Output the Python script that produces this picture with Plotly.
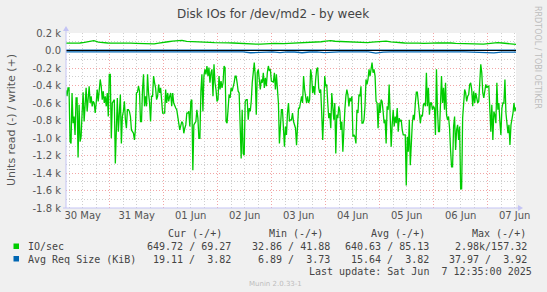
import plotly.graph_objects as go
import pandas as pd

# ---------------- data ----------------
period_start = "2025-05-30 04:35"
period_end = "2025-06-07 12:35"

# IO/sec, read side (drawn negative)
read_io = [
    454, 523, 427, 427, 1042, 1062, 485, 831, 754, 965, 542, 542, 1223, 619, 1042,
    985, 715, 477, 812, 600, 427, 696, 523, 408, 600, 523, 638, 581, 600, 715,
    600, 446, 581, 408, 331, 408, 562, 465, 600, 523, 638, 485, 754, 273, 273,
    1004, 600, 581, 562, 1292, 715, 542, 927, 735, 504, 1062, 754, 696, 581, 792,
    888, 677, 677, 696, 754, 908, 927, 946, 1023, 888, 485, 477, 408, 465, 812,
    812, 446, 273, 638, 523, 638, 273, 485, 600, 812, 523,
    523, 292, 369, 427, 562, 523, 388, 485, 427, 600, 715, 715, 715, 446, 600,
    485, 581, 523, 485, 638, 485, 600, 638, 658, 677, 792, 831, 908, 850, 812,
    831, 946, 888, 850, 715, 715, 696, 869, 581, 562, 1369, 850, 831, 812, 677,
    773, 1004, 1004, 465, 273, 696, 292, 215, 273, 177, 292, 196, 369, 254, 215,
    523, 158, 369, 446, 581, 562, 292, 446, 350, 427, 369, 177, 196, 812, 831,
    581, 504, 542, 427, 465, 427, 369, 292, 292, 369, 465, 485, 792, 1235, 677, 1177,
    1196, 581, 562, 562, 792, 658, 696, 581, 369, 254, 138, 292, 735, 254, 215,
    331, 446, 331, 369, 254, 427, 312, 408, 254, 177, 234, 215, 350, 360, 360,
    254, 446, 273, 465, 600, 1062, 792, 677, 677, 869, 1100, 869, 965, 715, 600,
    812, 792, 792, 715, 812, 869, 888, 1081, 888, 658, 658, 600, 523, 600, 292,
    446, 562, 600, 523, 600, 562, 215, 292, 485, 408, 504, 331, 215, 196, 427,
    485, 446, 715, 1023, 715, 292, 408, 388, 600, 773, 715, 888, 485, 638, 792,
    600, 1177, 735, 773, 638, 696, 908, 812, 1158, 831, 677, 523, 446, 504, 638,
    542, 581, 523, 985, 965, 985, 1062, 677, 715, 504, 523, 408, 831, 831, 792,
    638, 331, 388, 331, 215, 292, 215, 138, 254, 215, 292, 581, 600, 888, 600,
    715, 562, 581, 696, 831, 792, 1062, 638, 677, 388, 792, 1100, 850, 677, 869,
    754, 831, 658, 927, 773, 812, 792, 908, 965, 965, 965, 1542, 985, 1158, 792,
    1312, 985, 831, 735, 792, 600, 477, 477, 600, 773, 831, 735, 754, 619, 600,
    638, 254, 638, 427, 735, 600, 600, 677, 638, 658, 965, 215, 677, 927, 927,
    638, 292, 600, 427, 677, 369, 735, 792, 754, 888, 1138, 1331, 1331, 869, 754,
    1138, 908, 850, 1023, 869, 1581, 1581, 773, 638, 446, 485, 581, 523, 504, 388,
    369, 446, 638, 465, 600, 485, 542, 600, 581, 369, 158, 254, 485, 542, 446,
    388, 427, 408, 408, 735, 927, 619, 1023, 696, 735, 831, 369, 677, 600, 812,
    965, 658, 600, 600, 331, 715, 831, 946, 850, 1081, 850, 792, 715, 600, 696, 650,
]

# IO/sec, write side (drawn positive)
write_io = [
    84, 82, 80, 86, 92, 104, 112, 96, 88, 86, 84, 86, 88, 85, 84, 82, 80, 76, 72, 76,
    84, 96, 100, 108, 112, 116, 104, 100, 96, 94, 92, 92, 90, 92, 88, 88, 86, 82, 80, 76,
    72, 72, 74, 72, 78, 80, 76, 78, 82, 84, 84, 86, 90, 92, 96, 100, 108, 112, 106, 104,
    100, 96, 92, 88, 86, 90, 96, 100, 104, 108, 98, 92, 88, 86, 84, 88, 84, 82, 80, 84,
    86, 88, 84, 86, 82, 80, 84, 82, 78, 76, 72, 78, 84, 90, 86, 80, 76, 70,
]

# Avg request size (KiB), read side (drawn negative)
req_read = [
    15, 15, 14, 15, 16, 15, 15, 14, 15, 15, 15, 14, 15, 16, 15, 15, 15, 17, 18, 18,
    17, 18, 18, 17, 16, 26, 20, 16, 15, 24, 16, 17, 26, 17, 15, 24, 16, 15, 15, 16,
    17, 16, 30, 18, 16, 15, 15, 15, 14, 15, 15, 16, 15, 15, 15, 16, 17, 18, 27, 18,
    16, 19,
]

# Avg request size (KiB), write side (drawn positive)
req_write = [3.82, 3.80, 3.85, 3.78, 3.83, 3.90, 3.81, 3.76, 3.84, 3.88, 3.80, 3.73, 3.82, 3.86, 3.92, 3.82]

y_tickvals = [200, 0, -200, -400, -600, -800, -1000, -1200, -1400, -1600, -1800]
y_ticktext = ["0.2 k", "0.0", "-0.2 k", "-0.4 k", "-0.6 k", "-0.8 k", "-1.0 k",
              "-1.2 k", "-1.4 k", "-1.6 k", "-1.8 k"]

legend_rows = [
    ("IO/sec", "#00CC00", ["649.72 / 69.27", "32.86 / 41.88", "640.63 / 85.13", "2.98k/157.32"]),
    ("Avg Req Size (KiB)", "#0066B3", ["19.11 /  3.82", "6.89 /  3.73", "15.64 /  3.82", "37.97 /  3.92"]),
]
legend_headers = ["Cur (-/+)", "Min (-/+)", "Avg (-/+)", "Max (-/+)"]

# ---------------- layout geometry ----------------
WIDTH, HEIGHT = 547, 292
L, R, T, B = 66, 31, 33, 84
PW, PH = WIDTH - L - R, HEIGHT - T - B


def px(x):
    return (x - L) / PW


def py(y):
    return (T + PH - y) / PH


def t_axis(n):
    return pd.date_range(period_start, period_end, periods=n)


GREEN = "#00CC00"
BLUE = "#0066B3"

fig = go.Figure()
fig.add_trace(go.Scatter(x=t_axis(len(read_io)), y=[-v for v in read_io], mode="lines",
                         line=dict(color=GREEN, width=1.3), hoverinfo="skip"))
fig.add_trace(go.Scatter(x=t_axis(len(write_io)), y=write_io, mode="lines",
                         line=dict(color=GREEN, width=1.3), hoverinfo="skip"))
fig.add_trace(go.Scatter(x=t_axis(len(req_read)), y=[-v for v in req_read], mode="lines",
                         line=dict(color=BLUE, width=1.3), hoverinfo="skip"))
fig.add_trace(go.Scatter(x=t_axis(len(req_write)), y=req_write, mode="lines",
                         line=dict(color=BLUE, width=1.3), hoverinfo="skip"))

MAJ = "#F2A6A6"
MIN = "#CFCFCF"
AX = "#C4C4F4"
DASH = "1px,2px"

fig.update_layout(
    width=WIDTH, height=HEIGHT, autosize=False,
    margin=dict(l=L, r=R, t=T, b=B, pad=0),
    paper_bgcolor="#F0F0F0", plot_bgcolor="#FFFFFF",
    showlegend=False,
    font=dict(family="DejaVu Sans", size=10, color="#555555"),
    xaxis=dict(
        type="date", range=[period_start, period_end],
        tick0="2025-05-30", dtick=86400000, ticklabelmode="period",
        tickformat="%d %b", ticks="", showline=False, zeroline=False,
        showgrid=True, gridcolor=MAJ, griddash=DASH, gridwidth=1,
        minor=dict(dtick=6 * 3600000, showgrid=True, gridcolor=MIN,
                   griddash=DASH, gridwidth=1),
        tickfont=dict(size=10, color="#555555"),
        fixedrange=True,
    ),
    yaxis=dict(
        range=[-1800, 200], tickvals=y_tickvals, ticktext=y_ticktext,
        ticks="", showline=False, zeroline=False,
        showgrid=True, gridcolor=MAJ, griddash=DASH, gridwidth=1,
        minor=dict(dtick=100, tick0=0, showgrid=True, gridcolor=MIN,
                   griddash=DASH, gridwidth=1),
        tickfont=dict(size=10, color="#555555"),
        ticklabelstandoff=4,
        fixedrange=True,
    ),
)

shapes = []
# zero rule
shapes.append(dict(type="line", xref="paper", yref="y", x0=0, x1=1, y0=0, y1=0,
                   line=dict(color="#000000", width=1)))
# axis lines with arrows
shapes.append(dict(type="line", xref="paper", yref="paper", x0=px(63), x1=px(520),
                   y0=0, y1=0, line=dict(color=AX, width=1)))
shapes.append(dict(type="line", xref="paper", yref="paper", x0=0, x1=0,
                   y0=0, y1=py(29), line=dict(color=AX, width=1)))
shapes.append(dict(type="path", xref="paper", yref="paper",
                   path=f"M {px(518)} {py(205)} L {px(523)} {py(208)} L {px(518)} {py(211)} Z",
                   fillcolor=AX, line=dict(color=AX, width=0)))
shapes.append(dict(type="path", xref="paper", yref="paper",
                   path=f"M {px(63)} {py(31)} L {px(66)} {py(26)} L {px(69)} {py(31)} Z",
                   fillcolor=AX, line=dict(color=AX, width=0)))

annotations = []


def txt(text, x, y, size=10, color="#555555", family="DejaVu Sans", xanchor="left",
        angle=0):
    annotations.append(dict(text=text.replace("  ", " \u00a0"), x=px(x), y=py(y),
                            xref="paper", yref="paper", showarrow=False,
                            xanchor=xanchor, yanchor="middle", textangle=angle,
                            font=dict(size=size, color=color, family=family)))


txt("Disk IOs for /dev/md2 - by week", 273, 14, size=12, color="#444444", xanchor="center")
txt("Units read (-) / write (+)", 11, 120, size=11, color="#555555", xanchor="center", angle=-90)
txt("RRDTOOL / TOBI OETIKER", 538, 57, size=8, color="#BDBDBD", xanchor="center", angle=90)

MONO = "DejaVu Sans Mono"
col_right_hdr = [224, 325, 427, 528]
col_right_val = [233, 332, 431, 529]
for h, xr in zip(legend_headers, col_right_hdr):
    txt(h, xr, 233.5, family=MONO, color="#444444", xanchor="right")
for i, (name, colr, vals) in enumerate(legend_rows):
    yy = 246.5 + i * 12.5
    shapes.append(dict(type="rect", xref="paper", yref="paper",
                       x0=px(13.5), x1=px(19), y0=py(yy - 3), y1=py(yy + 2.5),
                       fillcolor=colr, line=dict(width=0)))
    txt(name, 26, yy, family=MONO, color="#444444")
    for v, xr in zip(vals, col_right_val):
        txt(v, xr, yy, family=MONO, color="#444444", xanchor="right")
txt("Last update: Sat Jun  7 12:35:00 2025", 534, 271, family=MONO, color="#444444", xanchor="right")
txt("Munin 2.0.33-1", 275, 283.5, size=7, color="#BDBDBD", xanchor="center")

fig.update_layout(shapes=shapes, annotations=annotations)
fig.write_html("out.html")
